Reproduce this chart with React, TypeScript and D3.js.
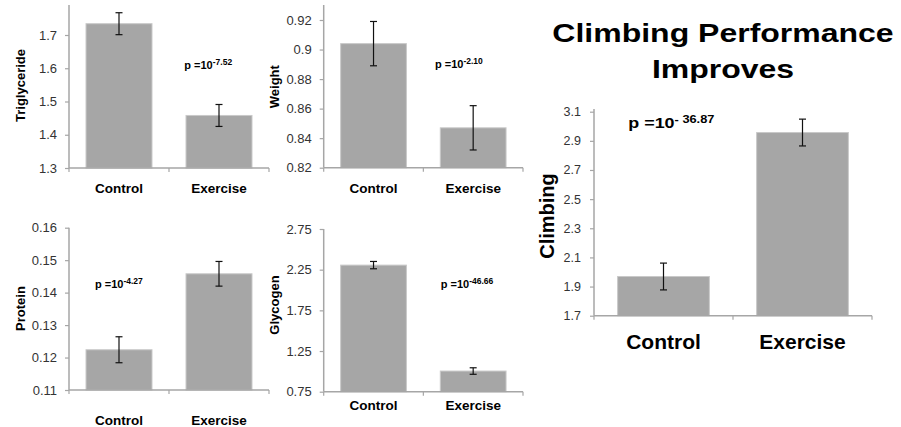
import React, { useEffect, useRef } from 'react';
import * as d3 from 'd3';

// groups on every x axis
const groups = ['Control', 'Exercise'];

// means and error bars
const triglycerideMeans = [1.734, 1.458];
const triglycerideErrors = [0.033, 0.033];
const weightMeans = [0.904, 0.847];
const weightErrors = [0.015, 0.015];
const proteinMeans = [0.1224, 0.1458];
const proteinErrors = [0.004, 0.0038];
const glycogenMeans = [2.306, 1.004];
const glycogenErrors = [0.045, 0.04];
const climbingMeans = [1.969, 2.957];
const climbingErrors = [0.092, 0.092];

// tick labels
const triglycerideTicks = [1.3, 1.4, 1.5, 1.6, 1.7];
const weightTicks = [0.82, 0.84, 0.86, 0.88, 0.9, 0.92];
const proteinTicks = [0.11, 0.12, 0.13, 0.14, 0.15, 0.16];
const glycogenTicks = [0.75, 1.25, 1.75, 2.25, 2.75];
const climbingTicks = [1.7, 1.9, 2.1, 2.3, 2.5, 2.7, 2.9, 3.1];

// p value exponents
const pExponents = ['-7.52', '-2.10', '-4.27', '-46.66', '- 36.87'];

const FONT = '"Liberation Sans", Arial, Helvetica, sans-serif';

const App = () => {
  const svgRef = useRef(null);

  useEffect(() => {
    const svg = d3.select(svgRef.current);
    svg.selectAll('*').remove();

    // layout of each small chart (pixels)
    const panels = [
      { label: 'Triglyceride', means: triglycerideMeans, errors: triglycerideErrors, ticks: triglycerideTicks, p: pExponents[0],
        x0: 69, x1: 269, bottom: 168, topTick: 35, axisTop: 5, yLabel: [20.5, 85.5], catY: 192.5, pPos: [184.3, 69], big: false },
      { label: 'Weight', means: weightMeans, errors: weightErrors, ticks: weightTicks, p: pExponents[1],
        x0: 323.7, x1: 523, bottom: 167.7, topTick: 20, axisTop: 5, yLabel: [274.5, 86.7], catY: 192.5, pPos: [435, 68], big: false },
      { label: 'Protein', means: proteinMeans, errors: proteinErrors, ticks: proteinTicks, p: pExponents[2],
        x0: 69, x1: 269, bottom: 390, topTick: 227.7, axisTop: 227.7, yLabel: [20.5, 308.5], catY: 425, pPos: [95, 287.7], big: false },
      { label: 'Glycogen', means: glycogenMeans, errors: glycogenErrors, ticks: glycogenTicks, p: pExponents[3],
        x0: 323.7, x1: 523, bottom: 391.7, topTick: 229, axisTop: 229, yLabel: [274.5, 305], catY: 409.5, pPos: [440.7, 288.3], big: false },
      { label: 'Climbing', means: climbingMeans, errors: climbingErrors, ticks: climbingTicks, p: pExponents[4],
        x0: 594, x1: 872, bottom: 315.7, topTick: 111.7, axisTop: 109, yLabel: [547, 216], catY: 349, pPos: [628.3, 128.3], big: true },
    ];

    panels.forEach((p) => {
      const x = d3.scaleBand().domain(groups).range([p.x0, p.x1]).paddingInner(0.34).paddingOuter(0.17);
      const y = d3.scaleLinear().domain([p.ticks[0], p.ticks[p.ticks.length - 1]]).range([p.bottom, p.topTick]);
      const g = svg.append('g');

      // bars
      g.selectAll('rect.bar')
        .data(p.means)
        .enter()
        .append('rect')
        .attr('class', 'bar')
        .attr('x', (d, i) => x(groups[i]))
        .attr('y', (d) => y(d))
        .attr('width', x.bandwidth())
        .attr('height', (d) => p.bottom - y(d))
        .attr('fill', '#a6a6a6')
        .attr('stroke', '#c9c9c9')
        .attr('stroke-width', 1);

      // error bars
      const cap = 3.5;
      p.means.forEach((m, i) => {
        const cx = x(groups[i]) + x.bandwidth() / 2;
        const hi = y(m + p.errors[i]);
        const lo = y(m - p.errors[i]);
        const eg = g.append('g').attr('stroke', '#111').attr('stroke-width', 1.2);
        eg.append('line').attr('x1', cx).attr('x2', cx).attr('y1', hi).attr('y2', lo);
        eg.append('line').attr('x1', cx - cap).attr('x2', cx + cap).attr('y1', hi).attr('y2', hi);
        eg.append('line').attr('x1', cx - cap).attr('x2', cx + cap).attr('y1', lo).attr('y2', lo);
      });

      // y axis
      const yAxis = g
        .append('g')
        .attr('transform', `translate(${p.x0},0)`)
        .call(d3.axisLeft(y).tickValues(p.ticks).tickSize(4).tickPadding(p.big ? 9 : 8).tickFormat((d) => String(d)));
      yAxis.select('.domain').remove();
      yAxis.selectAll('line').attr('stroke', '#a6a6a6').attr('stroke-width', 1.2);
      yAxis.selectAll('text')
        .attr('font-family', FONT)
        .attr('font-size', p.big ? 12.5 : 13)
        .attr('fill', '#333');
      g.append('line')
        .attr('x1', p.x0).attr('x2', p.x0)
        .attr('y1', p.axisTop).attr('y2', p.bottom)
        .attr('stroke', '#a6a6a6').attr('stroke-width', 1.5);

      // x axis
      g.append('line')
        .attr('x1', p.x0).attr('x2', p.x1)
        .attr('y1', p.bottom).attr('y2', p.bottom)
        .attr('stroke', '#a6a6a6').attr('stroke-width', 1.5);
      const edges = [p.x0, ...groups.map((c) => x(c) + x.bandwidth() / 2 + x.step() / 2)];
      g.selectAll('line.xtick')
        .data(edges)
        .enter()
        .append('line')
        .attr('class', 'xtick')
        .attr('x1', (d) => d).attr('x2', (d) => d)
        .attr('y1', p.bottom).attr('y2', p.bottom + 4)
        .attr('stroke', '#a6a6a6').attr('stroke-width', 1.2);

      // category labels
      g.selectAll('text.cat')
        .data(groups)
        .enter()
        .append('text')
        .attr('class', 'cat')
        .attr('x', (d) => x(d) + x.bandwidth() / 2)
        .attr('y', p.catY)
        .attr('text-anchor', 'middle')
        .attr('font-family', FONT)
        .attr('font-weight', 'bold')
        .attr('font-size', p.big ? 21 : 13.5)
        .attr('fill', '#000')
        .text((d) => d);

      // y axis title
      g.append('text')
        .attr('transform', `translate(${p.yLabel[0]},${p.yLabel[1]}) rotate(-90)`)
        .attr('text-anchor', 'middle')
        .attr('dominant-baseline', 'central')
        .attr('font-family', FONT)
        .attr('font-weight', 'bold')
        .attr('font-size', p.big ? 20 : 13)
        .attr('fill', '#000')
        .text(p.label);

      // p value
      const pt = g.append('text')
        .attr('transform', `translate(${p.pPos[0]},${p.pPos[1]}) scale(${p.big ? 1.28 : 1},1)`)
        .attr('font-family', FONT)
        .attr('font-weight', 'bold')
        .attr('fill', '#000');
      pt.append('tspan').attr('font-size', p.big ? 14 : 11).text('p =10');
      pt.append('tspan').attr('font-size', p.big ? 10 : 8.5).attr('dy', p.big ? -5 : -4).text(p.p);
    });

    // title
    const title = ['Climbing Performance', 'Improves'];
    const baselines = [41.7, 78.3];
    title.forEach((t, i) => {
      svg.append('text')
        .attr('transform', `translate(723,${baselines[i]}) scale(1.28,1)`)
        .attr('text-anchor', 'middle')
        .attr('font-family', FONT)
        .attr('font-weight', 'bold')
        .attr('font-size', 25)
        .attr('fill', '#000')
        .text(t);
    });
  }, []);

  return (
    <svg
      ref={svgRef}
      width={901}
      height={427}
      style={{ position: 'absolute', left: 0, top: 0, background: '#fff' }}
    ></svg>
  );
};

export default App;
